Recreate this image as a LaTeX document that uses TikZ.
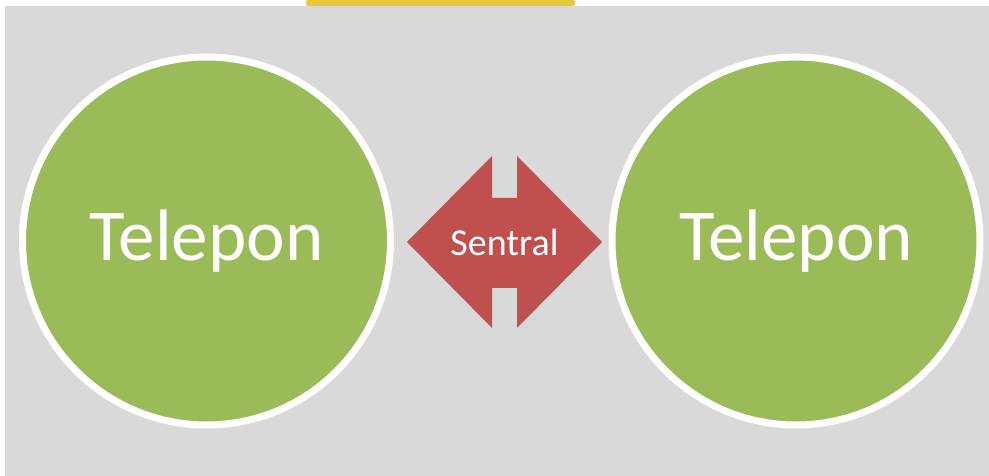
\documentclass[tikz,border=0pt]{standalone}
\usepackage{fontspec}
\setmainfont{Carlito}
\usepackage{tikz}
\usetikzlibrary{positioning, shadows}
\definecolor{bggray}{HTML}{D9D9D9}
\definecolor{phonegreen}{HTML}{9BBB59}
\definecolor{hubred}{HTML}{C0504D}
\definecolor{tabyellow}{HTML}{E9C93A}

\begin{document}
\begin{tikzpicture}[
  x=1pt, y=1pt,
  phone/.style={circle, draw=white, line width=7pt, fill=phonegreen, minimum size=368pt, inner sep=0pt,
    font=\fontsize{73}{73}\selectfont, text=white,
    drop shadow={shadow xshift=-1.5pt, shadow yshift=-3pt, opacity=0.3, fill=black!70}},
  hub/.style={font=\fontsize{38}{38}\selectfont, text=white, inner sep=0pt},
]
%% Background and frame
\fill[bggray] (0,0) rectangle (989,474);
\fill[white] (0,0) rectangle (5,474);
\fill[white] (0,470) rectangle (989,474);
\fill[tabyellow, rounded corners=1.5pt] (306,470) rectangle (575,476);
\useasboundingbox (0,0) rectangle (989,474);

%% Telephones
\node[phone] (telLeft)  at (206.5,235) {Telepon};
\node[phone] (telRight) at (796,235)   {Telepon};

%% Exchange
\node[hub] (sentral) at (504.5,234) {};
\begin{scope}[shift={(sentral.center)}]
  \fill[hubred] (-97.5,0) -- (-12.5,86) -- (-12.5,44) -- (12.5,44) -- (12.5,86)
    -- (97.5,0) -- (12.5,-86) -- (12.5,-46) -- (-12.5,-46) -- (-12.5,-86) -- cycle;
\end{scope}
\node[hub] at (sentral) {Sentral};
\end{tikzpicture}
\end{document}
